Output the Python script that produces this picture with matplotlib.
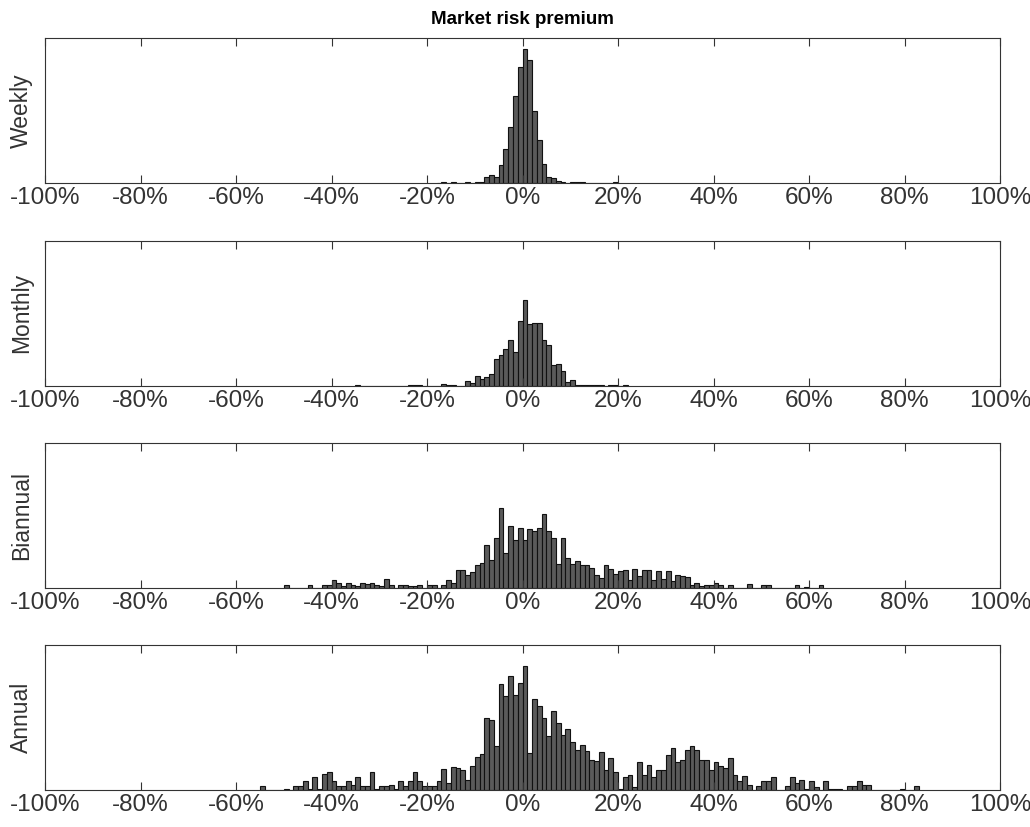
import numpy as np
import matplotlib
matplotlib.use("Agg")
import matplotlib.pyplot as plt

plt.rcParams['font.family'] = ['Liberation Sans', 'DejaVu Sans']

# ---- histogram heights (1% bins, left edge = start + i) ----
weekly_start = -18
weekly = [0, 1, 0, 1, 0, 0, 1, 0, 1, 1.5,
          6, 8.5, 6, 18, 34, 56, 87, 116, 134, 123,
          72, 43, 19, 6, 5.5, 2, 1.5, 0.5, 1, 1,
          1, 0, 0, 0, 0, 0, 0, 1]

monthly_start = -35
monthly = [1, 0, 0, 0, 0, 0, 0, 0, 0, 0,
           0, 0.7, 0.7, 0.7, 0, 0, 0, 0, 1.3, 0.7,
           0.7, 0, 0, 5, 3, 10, 6.7, 9, 12, 27,
           31, 37, 46, 34, 65, 86, 62, 63, 63, 46,
           41, 21, 22, 15, 3.3, 5.7, 0.7, 0.7, 0.7, 0.7,
           0.7, 0.7, 0, 0.7, 0.7, 0, 1]

biannual_start = -50
biannual = [2.7, 0, 0, 0, 0, 2.7, 0, 0, 2.5, 2.5,
            7.7, 5, 1.7, 5, 2.7, 2, 5, 4.3, 5, 2.7,
            1.7, 9.3, 2.7, 0, 2.7, 2.7, 1.7, 1.7, 2.7, 0,
            2.7, 2.7, 0, 2.7, 8.3, 5, 17.7, 17.7, 13.3, 16,
            23.3, 24.7, 42.7, 27.7, 50.3, 80.3, 35.3, 62.3, 48.3, 60,
            48.3, 58.7, 56.7, 60, 73.7, 56.7, 50.3, 24.3, 50.3, 30,
            24.3, 26.7, 23.3, 23.3, 20, 13.3, 10.3, 22.7, 18.7, 14.3,
            17, 18.3, 8.3, 18.7, 12, 18.3, 17.7, 8.3, 16.7, 8.7,
            16.7, 6.7, 13.3, 12, 11, 3.3, 5.3, 2, 2.7, 2.7,
            5.3, 2.7, 0, 2.7, 0, 0, 0, 4.3, 0, 0,
            2.7, 2.7, 0, 0, 0, 0, 0, 2.7, 0, 1,
            0, 0, 2.7]

annual_start = -55
annual = [4.7, 0, 0, 0, 0, 1.3, 0, 4.7, 4.7, 9,
          1.3, 13.3, 1.3, 16.7, 18, 9, 4.7, 4.7, 9, 5.7,
          13.3, 4.7, 4.7, 18, 1.3, 4.7, 4.7, 5.7, 1.3, 9,
          4.7, 9, 18, 9, 4.7, 4.7, 4.7, 9, 21.3, 7.3,
          23, 22.3, 20, 10.7, 24, 33, 36.7, 72.3, 70.7, 44,
          106.3, 94, 114, 95, 107.3, 124.7, 37, 91.3, 84.7, 72.3,
          54.7, 79, 67.3, 55.7, 61.7, 48, 40, 45.3, 39, 30.7,
          29, 38, 20, 32.3, 18, 1.3, 13.3, 15.7, 3.3, 28,
          15.7, 25.7, 13.3, 20.7, 20.7, 35.7, 42.3, 28, 30.7, 40,
          44.7, 40, 30.7, 30.7, 20, 28, 24, 22.3, 32.3, 15.7,
          9, 14.7, 5.7, 0, 4.7, 9.7, 9.7, 13.3, 0, 0,
          4.7, 13.3, 7.3, 10.7, 1.3, 9.7, 3.3, 0, 9, 1.3,
          1.3, 1.3, 0, 4, 4, 9, 5, 5, 0, 0,
          0, 0, 0, 0, 1, 0, 0, 4]

panel_names = ["Weekly", "Monthly", "Biannual", "Annual"]
panel_data = [(weekly_start, weekly), (monthly_start, monthly),
              (biannual_start, biannual), (annual_start, annual)]
xticks = list(range(-100, 101, 20))
xticklabels = [f"{t}%" for t in xticks]

fig = plt.figure(figsize=(10.3, 8.27), dpi=100)

W, H = 1030, 827
left_px, right_px = 45, 1000
ax_h_px = 145
for i, (name, (start, vals)) in enumerate(zip(panel_names, panel_data)):
    top_px = 38.3 + 202.3 * i
    ax = fig.add_axes([left_px / W, 1 - (top_px + ax_h_px) / H,
                       (right_px - left_px) / W, ax_h_px / H])
    edges = start + np.arange(len(vals))
    ax.bar(edges, vals, width=1, align='edge', color='#5a5a5a',
           edgecolor='#111111', linewidth=0.8)
    ax.set_xlim(-100, 100)
    ax.set_ylim(0, 145)
    ax.set_yticks([])
    ax.set_xticks(xticks)
    ax.set_xticklabels(xticklabels)
    ax.tick_params(axis='x', direction='in', top=True, length=5.5, width=0.8,
                   labelsize=17.5, colors='#333333', pad=3)
    for sp in ax.spines.values():
        sp.set_color('#333333')
        sp.set_linewidth(0.8)
    ax.set_ylabel(name, fontsize=16.5, color='#333333')
    ax.yaxis.set_label_coords(-0.0126, 0.5)

fig.text((left_px + right_px) / 2 / W, 1 - 19 / H, "Market risk premium",
         ha='center', va='center', fontsize=13.5, fontweight='bold')

fig.savefig("out.png", dpi=100)
